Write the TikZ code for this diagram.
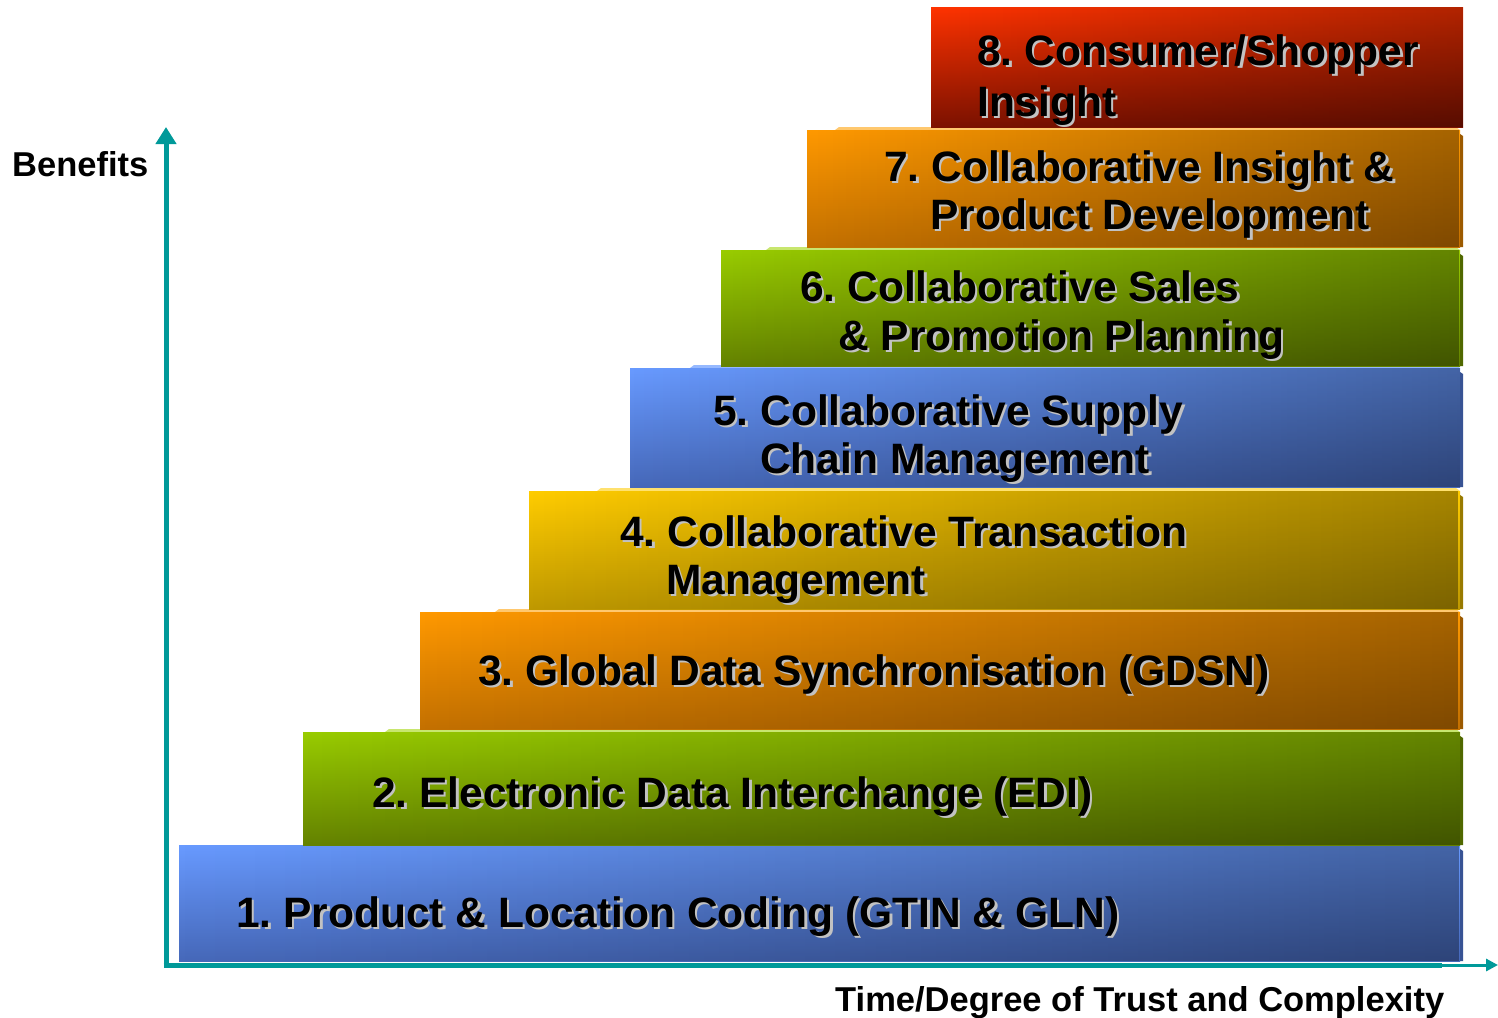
\documentclass[tikz,border=0pt]{standalone}
\usepackage{fontspec}
\setmainfont{Liberation Sans}
\usetikzlibrary{arrows.meta,fadings,calc}
\tikzfading[name=rdark, left color=transparent!100, right color=transparent!0]
\definecolor{teal1}{RGB}{0,153,153}
\definecolor{bluT}{RGB}{104,154,255}\definecolor{bluB}{RGB}{70,104,185}\definecolor{bluS}{RGB}{150,185,255}
\definecolor{grnT}{RGB}{153,204,0}\definecolor{grnB}{RGB}{100,130,0}\definecolor{grnS}{RGB}{200,230,110}
\definecolor{orgT}{RGB}{255,153,0}\definecolor{orgB}{RGB}{195,112,0}\definecolor{orgS}{RGB}{255,200,110}
\definecolor{ylwT}{RGB}{255,204,0}\definecolor{ylwB}{RGB}{190,152,0}\definecolor{ylwS}{RGB}{255,225,110}
\definecolor{redT}{RGB}{255,51,0}\definecolor{redB}{RGB}{125,18,0}\definecolor{redS}{RGB}{255,130,90}
\tikzset{
  blk/.style={draw=none, inner sep=0pt, outer sep=0pt, shading=axis},
  lbl/.style={inner sep=0pt, anchor=base west, font=\fontsize{42.5}{49}\selectfont\bfseries, text=black},
  lblsh/.style={lbl, text=black!24},
  axl/.style={inner sep=0pt, anchor=base west, font=\fontsize{34.5}{40}\selectfont\bfseries, text=black},
  axis/.style={draw=teal1, line width=5pt},
}
% name, L, T, B, top colour, bottom colour, strip colour, strip offset
\newcommand\stepblk[8]{%
  \fill[#7] ($(#2,#3)+(#8,0)$) -- ($(#2,#3)+(#8+4,-3)$) -- (1456,#3-3) -- (1460,#3) -- cycle;
  \node[blk, top color=#5, bottom color=#6, minimum width={1460-#2}, minimum height={#4-#3}, anchor=north west] (#1) at (#2,#3) {};
  \fill[black, path fading=rdark, fill opacity=0.35] (#1.north west) rectangle (#1.south east);
  \fill[#6!80!black] ($(#1.north east)+(0,4)$) -- ($(#1.north east)+(3,6)$) -- ($(#1.south east)+(3,0)$) -- (#1.south east) -- cycle;
}
\newcommand\shtext[4]{%
  \node[lblsh] (#1s) at (#2+2.5,#3+2.5) {#4};
  \node[lbl] (#1) at (#2,#3) {#4};
}
\frenchspacing
\begin{document}
\begin{tikzpicture}[x=1pt,y=-1pt]
\useasboundingbox[fill=white] (0,0) rectangle (1498,1017);
% blocks, from the bottom up
\stepblk{b1}{179}{845}{961}{bluT}{bluB}{bluS}{130}
\stepblk{b2}{303}{732}{845}{grnT}{grnB}{grnS}{82}
\stepblk{b3}{420}{612}{729}{orgT}{orgB}{orgS}{75}
\stepblk{b4}{529}{491}{609}{ylwT}{ylwB}{ylwS}{68}
\stepblk{b5}{630}{368}{487}{bluT}{bluB}{bluS}{60}
\stepblk{b6}{721}{250}{366}{grnT}{grnB}{grnS}{45}
\stepblk{b7}{807}{130}{247}{orgT}{orgB}{orgS}{28}
\node[blk, top color=redT, bottom color=redB, minimum width=532, minimum height=120, anchor=north west] (b8) at (931,7) {};
\fill[black, path fading=rdark, fill opacity=0.3] (b8.north west) rectangle (b8.south east);
% labels
\shtext{t1}{236}{927}{1. Product \& Location Coding (GTIN \& GLN)}
\shtext{t2}{372}{807}{2. Electronic Data Interchange (EDI)}
\shtext{t3}{478}{685}{3. Global Data Synchronisation (GDSN)}
\shtext{t4a}{620}{546}{4. Collaborative Transaction}
\shtext{t4b}{666}{594}{Management}
\shtext{t5a}{713}{425}{5. Collaborative Supply}
\shtext{t5b}{760}{473}{Chain Management}
\shtext{t6a}{800}{301}{6. Collaborative Sales}
\shtext{t6b}{838}{350}{\& Promotion Planning}
\shtext{t7a}{884}{181}{7. Collaborative Insight \&}
\shtext{t7b}{930}{229}{Product Development}
\shtext{t8a}{977}{65}{8. Consumer/Shopper}
\shtext{t8b}{977}{116}{Insight}
% axes
\coordinate (origin) at (166,965);
\coordinate (ytop) at (166,127);
\coordinate (xmid) at (1442,965);
\coordinate (xend) at (1498,965);
\draw[axis, -{Triangle[width=20pt,length=17pt]}] (origin) -- (ytop);
\draw[axis] ($(origin)+(-2.5,0)$) -- (xmid);
\draw[draw=teal1, line width=3pt, -{Triangle[width=12pt,length=12pt]}] (xmid) -- (xend);
\node[axl] (benefits) at (12,176) {Benefits};
\node[axl] (timeaxis) at (835,1011) {Time/Degree of Trust and Complexity};
\end{tikzpicture}
\end{document}
